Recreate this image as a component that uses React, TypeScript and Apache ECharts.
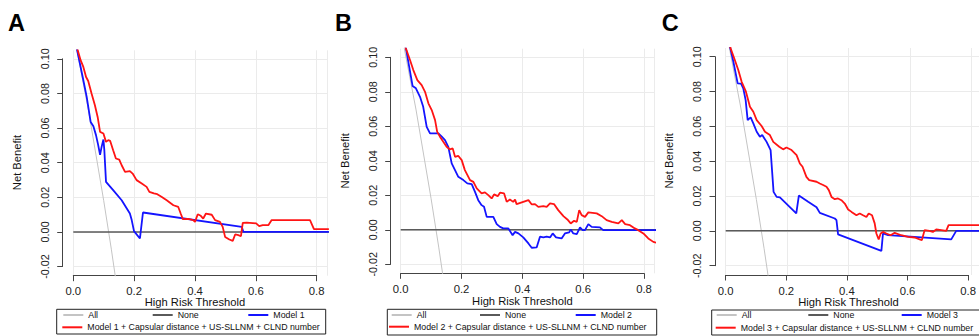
import React, { useEffect, useRef } from "react";
import * as echarts from "echarts";

// ---------- data ----------
const xTicks = [0, 0.2, 0.4, 0.6, 0.8];
const yTicks = [-0.02, 0, 0.02, 0.04, 0.06, 0.08, 0.1];
const panelLetters = ["A", "B", "C"];
const modelNames = ["Model 1", "Model 2", "Model 3"];
const addedTerms = " + Capsular distance + US-SLLNM + CLND number";

const treatAll: [number, number][] = [
  [0.0, 0.116], [0.05, 0.07], [0.1, 0.018], [0.125, -0.01], [0.15, -0.04],
];
const treatNone: [number, number][] = [[0, 0], [0.84, 0]];

const modelA: [number, number][] = [
  [0.010, 0.107], [0.013, 0.1046], [0.022, 0.097], [0.033, 0.0876], [0.044, 0.078],
  [0.057, 0.0635], [0.066, 0.061], [0.0746, 0.0559], [0.082, 0.05], [0.088, 0.0445],
  [0.093, 0.0491], [0.099, 0.0534], [0.102, 0.0472], [0.1075, 0.0289], [0.131, 0.0241],
  [0.159, 0.0183], [0.186, 0.0106], [0.192, 0.0068], [0.1995, 0.0004], [0.219, -0.0038],
  [0.229, 0.0112], [0.5535, 0.0029], [0.559, 0], [0.84, 0],
];
const fullA: [number, number][] = [
  [0.012, 0.107], [0.016, 0.104], [0.024, 0.0992], [0.033, 0.0953], [0.042, 0.0895],
  [0.049, 0.0872], [0.06, 0.08], [0.071, 0.0732], [0.08, 0.0664], [0.088, 0.0578],
  [0.099, 0.0568], [0.1075, 0.052], [0.115, 0.053], [0.121, 0.0526], [0.131, 0.0472],
  [0.14, 0.0424], [0.151, 0.0418], [0.159, 0.0385], [0.17, 0.0347], [0.186, 0.0351],
  [0.195, 0.0337], [0.208, 0.0299], [0.225, 0.028], [0.241, 0.026], [0.25, 0.0231],
  [0.265, 0.0222], [0.276, 0.0218], [0.291, 0.0202], [0.307, 0.0183], [0.329, 0.0154],
  [0.345, 0.0144], [0.353, 0.0106], [0.36, 0.0074], [0.378, 0.0075], [0.394, 0.0068],
  [0.4, 0.0058], [0.409, 0.0102], [0.419, 0.0093], [0.427, 0.0077], [0.436, 0.0106],
  [0.455, 0.0099], [0.466, 0.0068], [0.482, 0.0058], [0.491, 0.0029], [0.499, -0.0029],
  [0.513, -0.0044], [0.524, -0.0052], [0.532, -0.0015], [0.5425, -0.0019], [0.551, -0.0025],
  [0.557, 0.0052], [0.57, 0.0054], [0.601, 0.0049], [0.611, 0.0033], [0.6226, 0.0039],
  [0.641, 0.0039], [0.652, 0.0068], [0.778, 0.0068], [0.791, 0.0016], [0.84, 0.0016],
];

const modelB: [number, number][] = [
  [0.012, 0.108], [0.0174, 0.105], [0.028, 0.0945], [0.039, 0.0834], [0.05, 0.082],
  [0.0635, 0.0771], [0.074, 0.0713], [0.0855, 0.0597], [0.0964, 0.0559], [0.1095, 0.0559],
  [0.124, 0.0559], [0.135, 0.054], [0.1457, 0.052], [0.1565, 0.0481], [0.1677, 0.0385],
  [0.1786, 0.0346], [0.1894, 0.0307], [0.206, 0.0288], [0.219, 0.0269], [0.2335, 0.0265],
  [0.2443, 0.022], [0.255, 0.0172], [0.266, 0.0143], [0.274, 0.0133], [0.2828, 0.0075],
  [0.3045, 0.0075], [0.3157, 0.0033], [0.3265, 0.0017], [0.337, 0.0008], [0.354, 0.0008],
  [0.368, -0.0031], [0.376, -0.0012], [0.387, -0.0021], [0.403, -0.0044], [0.42, -0.0079],
  [0.4307, -0.0104], [0.447, -0.0102], [0.458, -0.004], [0.469, -0.0044], [0.48, -0.004],
  [0.491, -0.0044], [0.4998, -0.0021], [0.5107, -0.0044], [0.529, -0.005], [0.54, -0.0021],
  [0.554, -0.0015], [0.559, 0.0002], [0.5676, -0.0021], [0.579, -0.0025], [0.5896, 0.0014],
  [0.598, -0.0002], [0.606, -0.0002], [0.617, 0.0033], [0.628, 0.0017], [0.655, 0.0014],
  [0.666, -0.0002], [0.84, -0.0002],
];
const fullB: [number, number][] = [
  [0.012, 0.108], [0.0174, 0.105], [0.0306, 0.0984], [0.0415, 0.0926], [0.0547, 0.0868],
  [0.069, 0.0839], [0.08, 0.08], [0.091, 0.0733], [0.102, 0.0694], [0.113, 0.0636],
  [0.12, 0.0568], [0.129, 0.054], [0.14, 0.051], [0.151, 0.0481], [0.162, 0.0466],
  [0.171, 0.0472], [0.1786, 0.0423], [0.189, 0.0429], [0.2006, 0.0404], [0.211, 0.0346],
  [0.228, 0.0288], [0.239, 0.0278], [0.25, 0.024], [0.266, 0.0211], [0.277, 0.0217],
  [0.288, 0.0201], [0.299, 0.0182], [0.307, 0.0205], [0.319, 0.0195], [0.3265, 0.0215],
  [0.34, 0.0211], [0.3486, 0.0162], [0.359, 0.0176], [0.37, 0.0162], [0.376, 0.0176],
  [0.381, 0.0149], [0.403, 0.0162], [0.42, 0.0172], [0.431, 0.0147], [0.4416, 0.0149],
  [0.4525, 0.0133], [0.469, 0.0137], [0.48, 0.0133], [0.491, 0.0153], [0.504, 0.0149],
  [0.518, 0.0114], [0.535, 0.0079], [0.548, 0.006], [0.559, 0.0037], [0.57, 0.0052],
  [0.579, 0.0046], [0.587, 0.0114], [0.595, 0.0085], [0.606, 0.0075], [0.617, 0.0101],
  [0.6445, 0.0095], [0.661, 0.0079], [0.677, 0.0056], [0.694, 0.0046], [0.7156, 0.0037],
  [0.727, 0.0056], [0.738, 0.0033], [0.754, 0.0027], [0.77, 0.0008], [0.781, -0.0002],
  [0.798, -0.0021], [0.814, -0.005], [0.8306, -0.007], [0.84, -0.0075],
];

const modelC: [number, number][] = [
  [0.01, 0.109], [0.014, 0.1057], [0.025, 0.0971], [0.039, 0.0847], [0.05, 0.0845],
  [0.0573, 0.0818], [0.065, 0.0751], [0.0716, 0.0636], [0.0813, 0.0652], [0.09, 0.0617],
  [0.101, 0.0569], [0.1115, 0.054], [0.119, 0.055], [0.1333, 0.0511], [0.1463, 0.0464],
  [0.156, 0.0224], [0.166, 0.0195], [0.1766, 0.0192], [0.23, 0.0101], [0.2384, 0.0203],
  [0.2687, 0.0167], [0.296, 0.0136], [0.3067, 0.0103], [0.3555, 0.0071], [0.361, 0.0061],
  [0.3662, -0.002], [0.5073, -0.0115], [0.5125, -0.0015], [0.529, -0.0025], [0.735, -0.0049],
  [0.7512, 0], [0.84, 0],
];
const fullC: [number, number][] = [
  [0.01, 0.109], [0.016, 0.1048], [0.03, 0.098], [0.041, 0.0924], [0.052, 0.0856],
  [0.066, 0.0799], [0.079, 0.0713], [0.09, 0.0684], [0.101, 0.0636], [0.117, 0.0602],
  [0.128, 0.0569], [0.144, 0.055], [0.155, 0.0511], [0.1745, 0.0483], [0.187, 0.0468],
  [0.198, 0.0479], [0.2146, 0.0464], [0.231, 0.0435], [0.2416, 0.0387], [0.2504, 0.0368],
  [0.263, 0.031], [0.272, 0.0291], [0.296, 0.0282], [0.3067, 0.0272], [0.3174, 0.0263],
  [0.3285, 0.0253], [0.336, 0.0234], [0.3447, 0.0195], [0.3555, 0.0182], [0.366, 0.0186],
  [0.377, 0.0176], [0.388, 0.0157], [0.399, 0.0123], [0.41, 0.0109], [0.426, 0.009],
  [0.4368, 0.01], [0.4475, 0.009], [0.4585, 0.008], [0.466, 0.01], [0.4768, 0.009],
  [0.4855, 0.0043], [0.491, -0.0015], [0.4985, -0.0049], [0.505, -0.0015], [0.5125, -0.0006],
  [0.5236, -0.0015], [0.5375, -0.0025], [0.5506, -0.0011], [0.572, -0.0025], [0.594, -0.0034],
  [0.6156, -0.0038], [0.632, -0.0049], [0.6394, -0.0053], [0.648, 0.0004], [0.664, 0],
  [0.675, -0.0006], [0.686, 0.0008], [0.7025, 0.0004], [0.7186, 0], [0.7262, 0.0033],
  [0.84, 0.0033],
];

const modelSeries = [modelA, modelB, modelC];
const fullSeries = [fullA, fullB, fullC];

// ---------- layout (pixels) ----------
const layout = [
  { yAxisX: 62.7, x0: 73.3, x08: 316.7, y10: 58.8, yM02: 266.5, top: 50.3, bottom: 275.7, right: 327.3,
    letterX: 8, yTitle: [17.3, 162.5], xTitleY: 302.3,
    legendText: [88.3, 177.7, 273.3, 87.3], rowY: [315, 327.3], box: [56.7, 309.3, 269, 24.7] },
  { yAxisX: 390.7, x0: 400.7, x08: 644, y10: 57.3, yM02: 264.3, top: 48.7, bottom: 273.3, right: 654.6,
    letterX: 335, yTitle: [345, 160.8], xTitleY: 300.7,
    legendText: [416.7, 505, 600.7, 414], rowY: [315, 326.7], box: [387.3, 309.3, 269.4, 25.7] },
  { yAxisX: 715, x0: 725.7, x08: 971.2, y10: 56.7, yM02: 265.7, top: 48, bottom: 275, right: 979,
    letterX: 661.7, yTitle: [669, 160.8], xTitleY: 302.3,
    legendText: [741.7, 833.3, 926.7, 740.7], rowY: [315, 327.7], box: [711.7, 310, 290, 25] },
];

const FONT = "Liberation Sans";
const W = 979;
const H = 336;

function buildOption() {
  const grid: any[] = [];
  const xAxis: any[] = [];
  const yAxis: any[] = [];
  const series: any[] = [];
  const legend: any[] = [];
  const graphic: any[] = [];
  const gridColor = "#ebebeb";
  const axisColor = "#444";

  layout.forEach((L, i) => {
    const kx = (L.x08 - L.x0) / xTicks[xTicks.length - 1];
    const ky = (L.yM02 - L.y10) / (yTicks[yTicks.length - 1] - yTicks[0]);
    const xMax = (L.right - L.x0) / kx;
    const yMax = yTicks[yTicks.length - 1] + (L.y10 - L.top) / ky;
    const yMin = yTicks[0] - (L.bottom - L.yM02) / ky;
    const P = 3 * i, G = 3 * i + 1, X = 3 * i + 2;

    grid[P] = { left: L.x0, top: L.top, width: L.right - L.x0, height: L.bottom - L.top };
    grid[G] = { left: L.x0, top: L.y10, width: L.right - L.x0, height: L.yM02 - L.y10 };
    grid[X] = { left: L.x0, top: L.top, width: L.x08 - L.x0, height: L.bottom - L.top };

    xAxis[P] = {
      gridIndex: P, type: "value", min: 0, max: xMax, interval: 0.2,
      axisLine: { show: false }, axisTick: { show: false }, axisLabel: { show: false },
      splitLine: { show: true, lineStyle: { color: gridColor, width: 1 } },
    };
    yAxis[P] = {
      gridIndex: P, type: "value", min: yMin, max: yMax,
      axisLine: { show: false }, axisTick: { show: false }, axisLabel: { show: false },
      splitLine: { show: false },
    };
    xAxis[G] = { gridIndex: G, type: "value", min: 0, max: xMax, show: false };
    yAxis[G] = {
      gridIndex: G, type: "value", min: yTicks[0], max: yTicks[yTicks.length - 1], interval: 0.02,
      offset: L.x0 - L.yAxisX,
      axisLine: { show: true, onZero: false, lineStyle: { color: axisColor, width: 1 } },
      axisTick: { show: true, length: 5.5, lineStyle: { color: axisColor, width: 1 } },
      axisLabel: {
        show: true, rotate: 90, margin: 12.5, fontSize: 10.8, fontFamily: FONT, color: "#222",
        formatter: (v: number) => v.toFixed(2),
      },
      splitLine: { show: true, lineStyle: { color: gridColor, width: 1 } },
    };
    xAxis[X] = {
      gridIndex: X, type: "value", position: "bottom", min: xTicks[0], max: xTicks[xTicks.length - 1],
      interval: 0.2,
      axisLine: { show: true, onZero: false, lineStyle: { color: axisColor, width: 1 } },
      axisTick: { show: true, length: 5.5, lineStyle: { color: axisColor, width: 1 } },
      axisLabel: {
        show: true, margin: 10, fontSize: 11.3, fontFamily: FONT, color: "#222",
        formatter: (v: number) => v.toFixed(1),
      },
      splitLine: { show: false },
    };
    yAxis[X] = { gridIndex: X, type: "value", min: 0, max: 1, show: false };

    const mName = modelNames[i];
    const fName = mName + addedTerms;
    const common = { type: "line", xAxisIndex: P, yAxisIndex: P, symbol: "none", showSymbol: false, clip: true, silent: true };
    series.push({ ...common, name: "All", data: treatAll, lineStyle: { color: "#c4c4c4", width: 1 }, itemStyle: { color: "#c4c4c4" }, z: 2 });
    series.push({ ...common, name: "None", data: treatNone, lineStyle: { color: "#5a5a5a", width: 1.5 }, itemStyle: { color: "#5a5a5a" }, z: 3 });
    series.push({ ...common, name: mName, data: modelSeries[i], lineStyle: { color: "#1414ff", width: 1.8 }, itemStyle: { color: "#1414ff" }, z: 4 });
    series.push({ ...common, name: fName, data: fullSeries[i], lineStyle: { color: "#ff1414", width: 1.8 }, itemStyle: { color: "#ff1414" }, z: 5 });

    const names = ["All", "None", mName, fName];
    const iconW = 20;
    names.forEach((nm, j) => {
      const rowC = j < 3 ? L.rowY[0] : L.rowY[1];
      legend.push({
        left: L.legendText[j] - iconW - 5, top: rowC - 4.5, orient: "horizontal", padding: 0,
        icon: "rect", itemWidth: iconW, itemHeight: 2, itemGap: 0, selectedMode: false,
        data: [nm], textStyle: { fontSize: 8.8, fontFamily: FONT, color: "#111" },
      });
    });

    graphic.push({
      type: "rect", silent: true, z: 1,
      shape: { x: L.box[0], y: L.box[1], width: L.box[2], height: L.box[3] },
      style: { fill: "none", stroke: "#222", lineWidth: 1 },
    });
    graphic.push({
      type: "text", left: L.letterX, top: 11, silent: true,
      style: { text: panelLetters[i], font: `bold 23.5px "${FONT}"`, fill: "#000" },
    });
    graphic.push({
      type: "text", x: L.yTitle[0], y: L.yTitle[1], rotation: Math.PI / 2, silent: true,
      style: { text: "Net Benefit", font: `11.2px "${FONT}"`, fill: "#111", align: "center", verticalAlign: "middle" },
    });
    graphic.push({
      type: "text", x: (L.x0 + L.x08) / 2, y: L.xTitleY, silent: true,
      style: { text: "High Risk Threshold", font: `11.2px "${FONT}"`, fill: "#111", align: "center", verticalAlign: "middle" },
    });
  });

  return {
    animation: false,
    backgroundColor: "#ffffff",
    textStyle: { fontFamily: FONT },
    grid, xAxis, yAxis, series, legend, graphic,
  };
}

export default function App() {
  const ref = useRef<HTMLDivElement>(null);
  useEffect(() => {
    if (!ref.current) return;
    const chart = echarts.init(ref.current, undefined, { renderer: "svg", width: W, height: H });
    chart.setOption(buildOption() as any);
    return () => chart.dispose();
  }, []);
  return (
    <div
      ref={ref}
      style={{ position: "absolute", left: 0, top: 0, width: W, height: H, background: "#fff" }}
    />
  );
}
